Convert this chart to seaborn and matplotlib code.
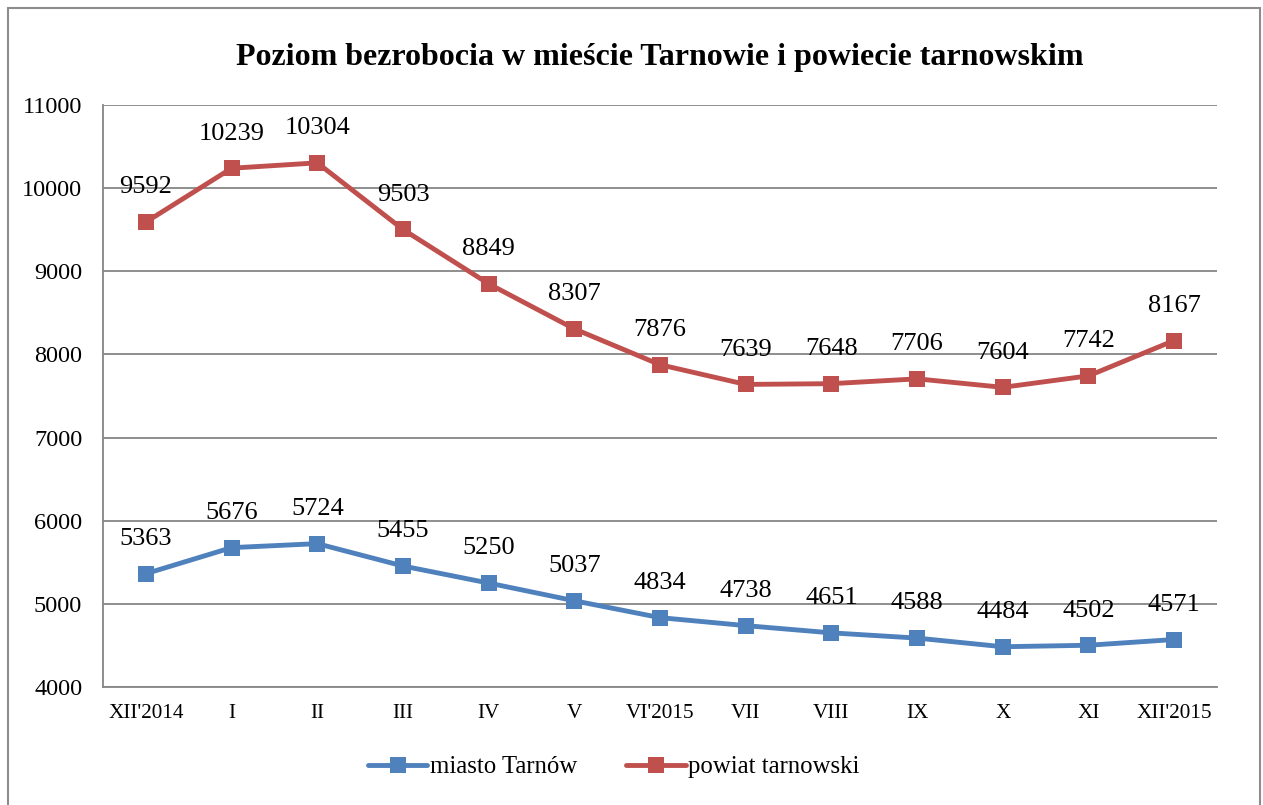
import pandas as pd
import matplotlib
matplotlib.use('Agg')
import matplotlib.pyplot as plt
import seaborn as sns
from matplotlib.patches import Rectangle

# Dane
miesiace = ["XII'2014", 'I', 'II', 'III', 'IV', 'V', "VI'2015",
            'VII', 'VIII', 'IX', 'X', 'XI', "XII'2015"]
miasto_tarnow = [5363, 5676, 5724, 5455, 5250, 5037, 4834,
                 4738, 4651, 4588, 4484, 4502, 4571]
powiat_tarnowski = [9592, 10239, 10304, 9503, 8849, 8307, 7876,
                    7639, 7648, 7706, 7604, 7742, 8167]
serie = ['miasto Tarnów', 'powiat tarnowski']
kolory = ['#4F81BD', '#C0504D']
y_ticks = [4000, 5000, 6000, 7000, 8000, 9000, 10000, 11000]

df = pd.DataFrame({
    'miesiac': miesiace * 2,
    'liczba': miasto_tarnow + powiat_tarnowski,
    'seria': [serie[0]] * len(miesiace) + [serie[1]] * len(miesiace),
})

sns.set_style('white')
plt.rcParams['font.family'] = ['Liberation Serif', 'DejaVu Serif']
plt.rcParams['text.color'] = 'black'

fig = plt.figure(figsize=(12.63, 8.05), dpi=100)
ax = fig.add_axes([0.0816, 0.1466, 0.882, 0.7230])

sns.lineplot(data=df, x='miesiac', y='liczba', hue='seria', palette=kolory,
             marker='s', markersize=11, markeredgewidth=0, linewidth=3.5,
             sort=False, legend=False, ax=ax)

# Etykiety danych nad punktami
for wartosci in (miasto_tarnow, powiat_tarnowski):
    for i, v in enumerate(wartosci):
        ax.annotate(str(v), (i, v), textcoords='offset points', xytext=(0, 25),
                    ha='center', va='center', fontsize=19, color='black')

ax.set_xlim(-0.5, len(miesiace) - 0.5)
ax.set_ylim(4000, 11000)
ax.set_yticks(y_ticks)
ax.set_yticklabels([str(t) for t in y_ticks], fontsize=17.5)
ax.set_xticks(range(len(miesiace)))
ax.set_xticklabels(miesiace, fontsize=15.3)
ax.set_xticks([i - 0.5 for i in range(len(miesiace) + 1)], minor=True)
ax.tick_params(axis='x', which='major', length=0, pad=12, labelcolor='black')
ax.tick_params(axis='x', which='minor', length=6, width=1.3, color='#868686')
ax.tick_params(axis='y', which='major', length=5, width=1.3, color='#868686',
               pad=10, labelcolor='black')
ax.set_xlabel('')
ax.set_ylabel('')

ax.grid(axis='y', color='#868686', linewidth=1.3)
ax.set_axisbelow(True)
for s in ['top', 'right']:
    ax.spines[s].set_visible(False)
for s in ['left', 'bottom']:
    ax.spines[s].set_color('#868686')
    ax.spines[s].set_linewidth(1.3)

fig.text(0.5226, 0.929, 'Poziom bezrobocia w mieście Tarnowie i powiecie tarnowskim',
         ha='center', va='center', fontsize=23, fontweight='bold', color='black')

# Legenda
uchwyty = [plt.Line2D([], [], color=c, linewidth=3.5, marker='s', markersize=11,
                      markeredgewidth=0, solid_capstyle='round') for c in kolory]
fig.legend(uchwyty, serie, loc='center', bbox_to_anchor=(0.486, 0.047), ncol=2,
           frameon=False, fontsize=17.8, handlelength=2.4, handletextpad=0.1,
           columnspacing=2.0)

# Ramka wykresu
fig.patches.append(Rectangle((8 / 1263, -0.02), 1252 / 1263, 1.02 - 8 / 805,
                             transform=fig.transFigure, fill=False,
                             edgecolor='#8c8c8c', linewidth=1.5))

fig.savefig('out.png', dpi=100)
